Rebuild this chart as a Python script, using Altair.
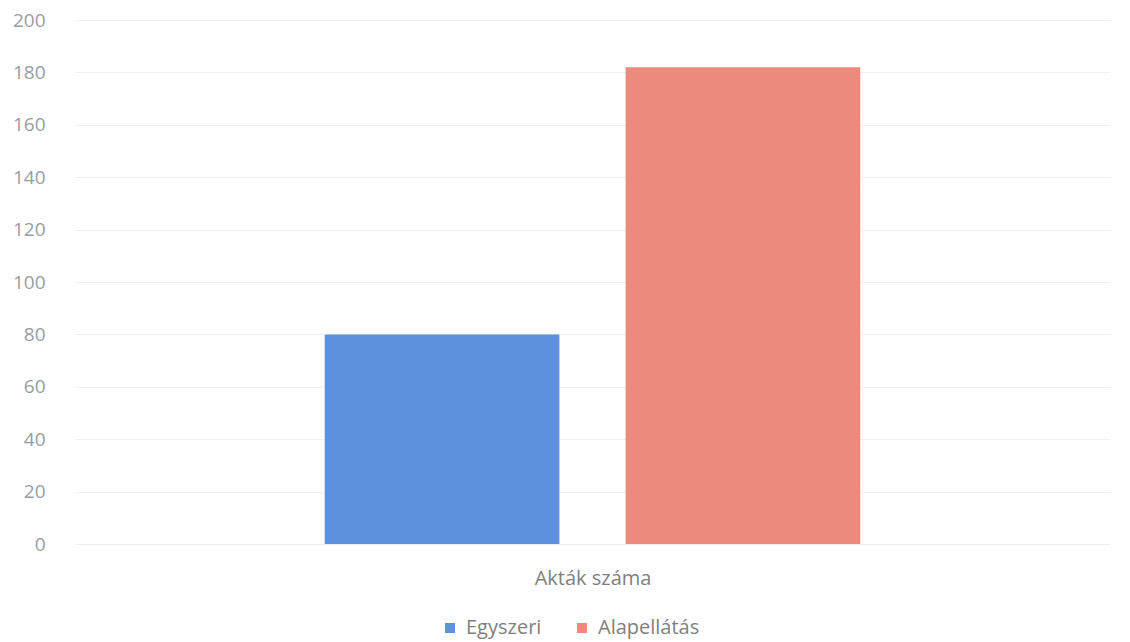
import altair as alt
import pandas as pd

series = ["Egyszeri", "Alapellátás"]
values = [80, 182]
colors = ["#5E90DD", "#EC8A7B"]
category = "Akták száma"

df = pd.DataFrame({"series": series, "value": values, "cat": [category] * len(series)})

FONT = "Open Sans"
GRAY = "#959DA7"

chart = alt.Chart(df).mark_bar().encode(
    x=alt.X("series:N", sort=series,
            scale=alt.Scale(paddingInner=0.22, paddingOuter=0.83),
            axis=alt.Axis(labels=False, ticks=False, domain=True, domainColor="#EDEDED",
                          title=category, titleFont=FONT, titleFontSize=20,
                          titleFontWeight="normal", titleColor="#7F7F7F", titlePadding=24)),
    y=alt.Y("value:Q", scale=alt.Scale(domain=[0, 200]),
            axis=alt.Axis(values=list(range(0, 201, 20)), title=None, domain=False, ticks=False,
                          labelFont=FONT, labelFontSize=19, labelColor=GRAY, labelPadding=30,
                          gridColor="#F0F0F0", gridWidth=1)),
    color=alt.Color("series:N", sort=series,
                    scale=alt.Scale(domain=series, range=colors),
                    legend=alt.Legend(orient="none", legendX=365, legendY=598,
                                      direction="horizontal", title=None,
                                      symbolType="square", symbolSize=100, symbolStrokeWidth=0,
                                      labelFont=FONT, labelFontSize=20, labelColor="#7F7F7F",
                                      labelOffset=6, columnPadding=30)),
).properties(
    width=1035, height=524,
    autosize=alt.AutoSizeParams(type="none"),
    padding={"left": 67, "top": 12, "right": 12, "bottom": 98},
).configure_view(stroke=None)

chart.save("out.html", embed_options={"renderer": "svg", "actions": False})
